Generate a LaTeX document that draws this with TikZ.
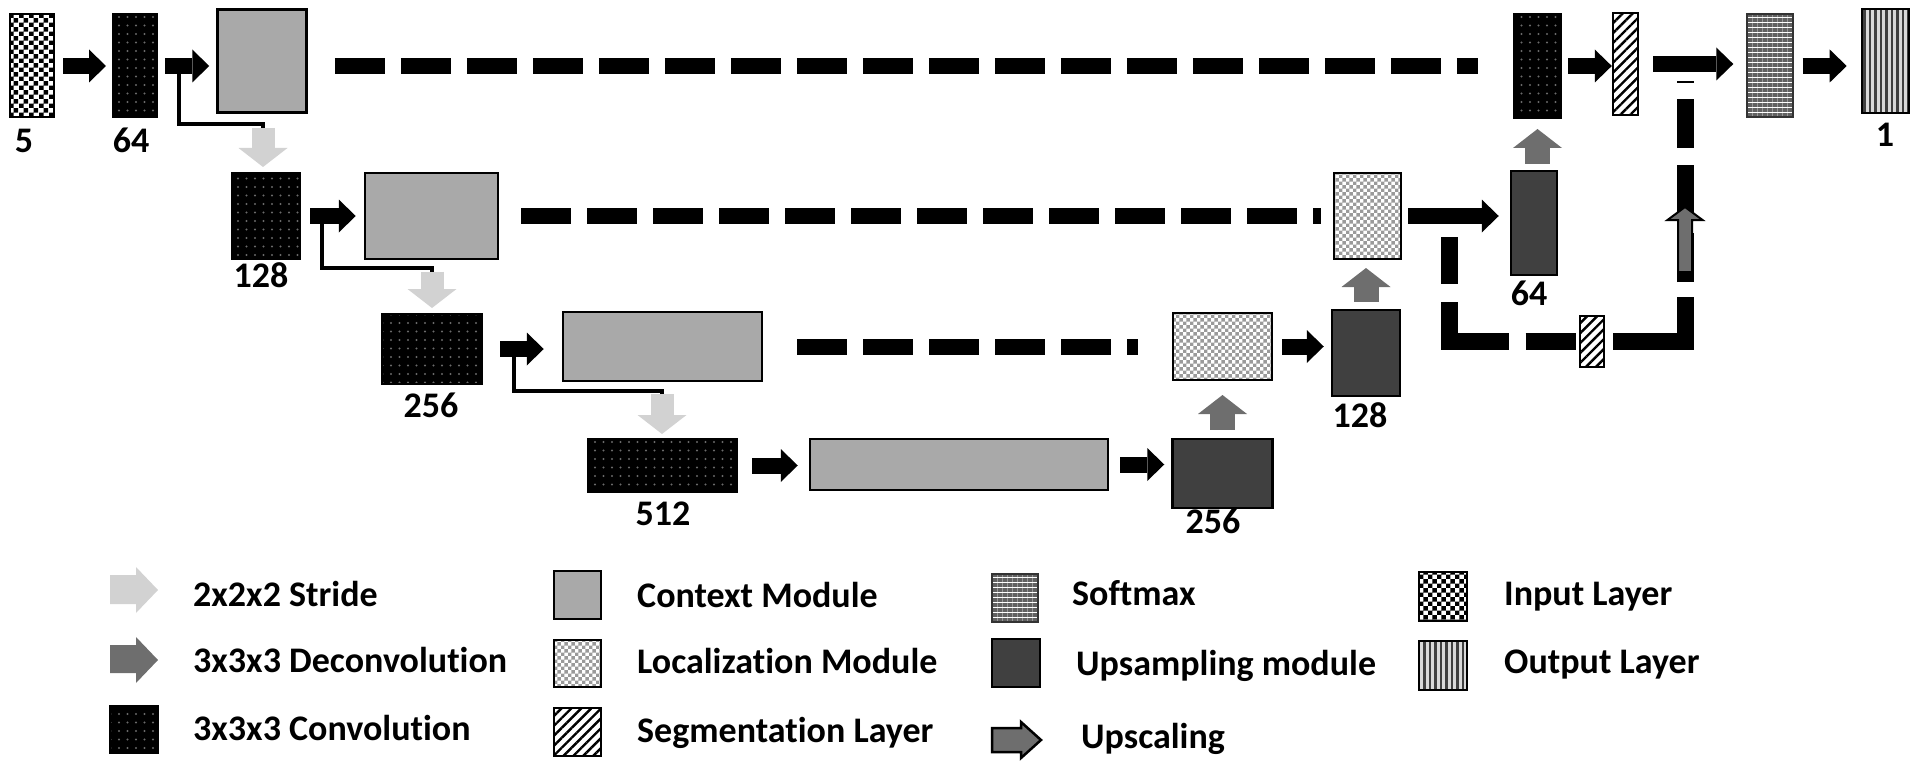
\documentclass[tikz,border=0pt]{standalone}
\usepackage{fontspec}
\setmainfont{Carlito}[Ligatures={NoCommon,NoContextual}]
\usetikzlibrary{arrows.meta,patterns,patterns.meta,calc}

\pgfdeclarepatternformonly{incheck}{\pgfpointorigin}{\pgfqpoint{9.4pt}{9.4pt}}{\pgfqpoint{9.4pt}{9.4pt}}{%
  \pgfpathrectangle{\pgfpointorigin}{\pgfqpoint{4.7pt}{4.7pt}}%
  \pgfpathrectangle{\pgfqpoint{4.7pt}{4.7pt}}{\pgfqpoint{4.7pt}{4.7pt}}%
  \pgfusepath{fill}}
\pgfdeclarepatternformonly{loccheck}{\pgfpointorigin}{\pgfqpoint{7.4pt}{7.4pt}}{\pgfqpoint{7.4pt}{7.4pt}}{%
  \pgfpathrectangle{\pgfpointorigin}{\pgfqpoint{3.7pt}{3.7pt}}%
  \pgfpathrectangle{\pgfqpoint{3.7pt}{3.7pt}}{\pgfqpoint{3.7pt}{3.7pt}}%
  \pgfusepath{fill}}

\definecolor{ctxgray}{HTML}{A9A9A9}
\definecolor{upgray}{HTML}{404040}
\definecolor{stridegray}{HTML}{D2D2D2}
\definecolor{deconvgray}{HTML}{6E6E6E}
\definecolor{dotgray}{HTML}{6A6A6A}
\definecolor{locgray}{HTML}{9A9A9A}

\tikzset{
  blk/.style={rectangle, inner sep=0pt, line width=2pt, draw=black},
  inlayer/.style={blk, preaction={fill=white}, pattern=incheck, pattern color=black},
  conv/.style={blk, preaction={fill=black}, pattern={Dots[radius=1.1pt,distance=8.5pt]}, pattern color=dotgray},
  ctx/.style={blk, fill=ctxgray, line width=2.5pt},
  loc/.style={blk, preaction={fill=white}, pattern=loccheck, pattern color=locgray},
  seg/.style={blk, preaction={fill=white}, pattern={Lines[angle=45,distance=7pt,line width=2.4pt]}, pattern color=black},
  soft/.style={blk, draw=black!80, preaction={fill=white}, pattern={Lines[angle=0,distance=5pt,line width=3.4pt]}, pattern color=black!62},
  outl/.style={blk, preaction={fill=gray!30}, pattern={Lines[angle=90,distance=5.5pt,line width=2.6pt]}, pattern color=black!75},
  ups/.style={blk, fill=upgray, line width=2.5pt},
  lab/.style={font=\bfseries\fontsize{36}{40}\selectfont, anchor=base, inner sep=0pt},
  legtxt/.style={font=\bfseries\fontsize{36}{40}\selectfont, anchor=base west, inner sep=0pt},
  barrow/.style={line width=16pt, -{Triangle[length=17pt,width=33pt,line width=0pt]}},
  stride/.style={draw=stridegray, line width=23pt, -{Triangle[length=19pt,width=49pt,line width=0pt]}},
  deconv/.style={draw=deconvgray, line width=25pt, -{Triangle[length=19pt,width=49pt,line width=0pt]}},
  elbow/.style={line width=4pt},
  skip/.style={line width=16pt, dash pattern=on 50pt off 16pt},
  dsline/.style={line width=17pt},
}

\begin{document}
\begin{tikzpicture}[x=1pt,y=-1pt]
\useasboundingbox (0,0) rectangle (1920,765);

% ---------- network blocks ----------
\node[inlayer, minimum width=44pt, minimum height=103pt] (in) at (32,66) {};
\node[conv, minimum width=44pt, minimum height=103pt] (c64) at (135,66) {};
\node[ctx, minimum width=89pt, minimum height=103pt] (ctx1) at (262,61) {};
\node[conv, minimum width=68pt, minimum height=86pt] (c128) at (266,216) {};
\node[ctx, minimum width=133pt, minimum height=86pt] (ctx2) at (431.5,216) {};
\node[conv, minimum width=100pt, minimum height=70pt] (c256) at (432,349) {};
\node[ctx, minimum width=199pt, minimum height=69pt] (ctx3) at (662.5,346.5) {};
\node[conv, minimum width=149pt, minimum height=53pt] (c512) at (662.5,465.5) {};
\node[ctx, minimum width=298pt, minimum height=51pt] (ctx4) at (959,464.5) {};
\node[ups, minimum width=100pt, minimum height=69pt] (up256) at (1222.5,473.5) {};
\node[loc, minimum width=99pt, minimum height=67pt] (loc2) at (1222.5,346.5) {};
\node[ups, minimum width=68pt, minimum height=86pt] (up128) at (1366,353) {};
\node[loc, minimum width=67pt, minimum height=86pt] (loc1) at (1367.5,216) {};
\node[ups, minimum width=46pt, minimum height=104pt] (up64) at (1534,223) {};
\node[conv, minimum width=47pt, minimum height=104pt] (ctop) at (1537.5,66) {};
\node[seg, minimum width=25pt, minimum height=102pt] (seg1) at (1625.5,64) {};
\node[soft, minimum width=46pt, minimum height=103pt] (soft) at (1770,66) {};
\node[outl, minimum width=47pt, minimum height=104pt] (out) at (1885.5,61) {};
\node[seg, minimum width=24pt, minimum height=51pt] (seg2) at (1592,341.5) {};

% ---------- size labels ----------
\node[lab] (l5) at (24,153) {5};
\node[lab] (l64) at (131,153) {64};
\node[lab] (l128) at (261,287) {128};
\node[lab] (l256) at (431,417) {256};
\node[lab] (l512) at (663,525) {512};
\node[lab] (l256b) at (1213,533) {256};
\node[lab] (l128b) at (1360,427) {128};
\node[lab] (l64b) at (1529,305) {64};
\node[lab] (l1) at (1885,147) {1};

% ---------- skip connections (dashed) ----------
\draw[skip, shorten <=27pt, shorten >=35pt] (ctx1.east |- ctop.west) -- (ctop.west);
\draw[skip, shorten <=22pt, shorten >=12pt] (ctx2.east) -- (loc1.west);
\draw[skip, shorten <=34pt, shorten >=34pt] (ctx3.east) -- (loc2.west);

% ---------- black arrows ----------
\draw[barrow, shorten <=8pt, shorten >=6pt] (in.east) -- (c64.west);
\draw[barrow, shorten <=7pt, shorten >=7pt] (c64.east) -- (c64.east -| ctx1.west);
\draw[barrow, shorten <=9pt, shorten >=8pt] (c128.east) -- (ctx2.west);
\draw[barrow, shorten <=17pt, shorten >=18pt] (c256.east) -- (c256.east -| ctx3.west);
\draw[barrow, shorten <=14pt, shorten >=11pt] (c512.east) -- (c512.east -| ctx4.west);
\draw[barrow, shorten <=11pt, shorten >=7pt] (ctx4.east) -- (ctx4.east -| up256.west);
\draw[barrow, shorten <=9pt, shorten >=7pt] (loc2.east) -- (loc2.east -| up128.west);
\draw[barrow, shorten <=6pt, shorten >=11pt] (loc1.east) -- (loc1.east -| up64.west);
\draw[barrow, shorten <=6pt, shorten >=0pt] (ctop.east) -- (ctop.east -| seg1.west);
\draw[barrow, shorten <=14pt, shorten >=12pt] (seg1.east) -- (seg1.east -| soft.west);
\draw[barrow, shorten <=8pt, shorten >=14pt] (soft.east) -- (soft.east -| out.west);

% ---------- stride (down-sampling) ----------
\coordinate (k1) at (179,66);  \coordinate (s1) at (263,124.5);
\coordinate (k2) at (322,216); \coordinate (s2) at (432,268);
\coordinate (k3) at (514,348); \coordinate (s3) at (662,390.5);
\draw[elbow] (k1) |- (s1) -- ++(0,4);
\draw[elbow] (k2) |- (s2) -- ++(0,4);
\draw[elbow] (k3) |- (s3) -- ++(0,4);
\draw[stride, shorten >=5pt] ([yshift=-3.5pt]s1) -- (s1 |- c128.north);
\draw[stride, shorten >=5pt] ([yshift=-3.5pt]s2) -- (s2 |- c256.north);
\draw[stride, shorten >=4pt] ([yshift=-3.5pt]s3) -- (s3 |- c512.north);

% ---------- deconvolution (up) ----------
\draw[deconv, shorten <=6pt, shorten >=10pt] (ctop.south |- up64.north) -- (ctop.south);
\draw[deconv, shorten <=7pt, shorten >=8pt] (up128.north) -- (up128.north |- loc1.south);
\draw[deconv, shorten <=8pt, shorten >=14pt] (up256.north) -- (up256.north |- loc2.south);

% ---------- deep supervision path ----------
\coordinate (ds0) at (1449,237);
\coordinate (dsTop) at (1685,81);
\draw[dsline, dash pattern=on 47pt off 18pt on 99pt off 17pt on 50pt off 30pt] (ds0) |- (seg2.west);
\draw[dsline, shorten <=8pt, dash pattern=on 116.5pt off 15pt on 49pt off 16pt on 52pt off 17pt on 49pt off 16pt on 10pt off 10pt] (seg2.east) -| (dsTop);
\filldraw[fill=deconvgray, draw=black, line width=2pt] (1678,272) -- (1692,272) -- (1692,220) -- (1702.5,220) -- (1685,207) -- (1667.5,220) -- (1678,220) -- cycle;

% ---------- legend ----------
\fill[stridegray] (110,575) -- (136,575) -- (136,567) -- (158,590) -- (136,613) -- (136,604) -- (110,604) -- cycle;
\fill[deconvgray] (110,645) -- (136,645) -- (136,637) -- (158,660) -- (136,683) -- (136,673) -- (110,673) -- cycle;
\node[conv, minimum width=48pt, minimum height=47pt] (lgconv) at (134,729.5) {};
\node[legtxt] (t1) at (193,606) {2x2x2 Stride};
\node[legtxt] (t2) at (193,672) {3x3x3 Deconvolution};
\node[legtxt] (t3) at (193,740) {3x3x3 Convolution};

\node[ctx, minimum width=47pt, minimum height=48pt] (lgctx) at (577.5,595) {};
\node[loc, minimum width=47pt, minimum height=47pt] (lgloc) at (577.5,663.5) {};
\node[seg, minimum width=47pt, minimum height=48pt] (lgseg) at (577.5,732) {};
\node[legtxt] (t4) at (637,607) {Context Module};
\node[legtxt] (t5) at (637,673) {Localization Module};
\node[legtxt] (t6) at (637,742) {Segmentation Layer};

\node[soft, minimum width=46pt, minimum height=48pt] (lgsoft) at (1015,598) {};
\node[ups, minimum width=48pt, minimum height=48pt] (lgups) at (1016,663) {};
\filldraw[fill=deconvgray, draw=black, line width=2.5pt] (992,728) -- (1021,728) -- (1021,722) -- (1041,740) -- (1021,758) -- (1021,752) -- (992,752) -- cycle;
\node[legtxt] (t7) at (1072,605) {Softmax};
\node[legtxt] (t8) at (1076,675) {Upsampling module};
\node[legtxt] (t9) at (1081,748) {Upscaling};

\node[inlayer, minimum width=48pt, minimum height=49pt] (lgin) at (1443,596.5) {};
\node[outl, minimum width=48pt, minimum height=49pt] (lgout) at (1443,665.5) {};
\node[legtxt] (t10) at (1504,605) {Input Layer};
\node[legtxt] (t11) at (1504,673) {Output Layer};
\end{tikzpicture}
\end{document}
